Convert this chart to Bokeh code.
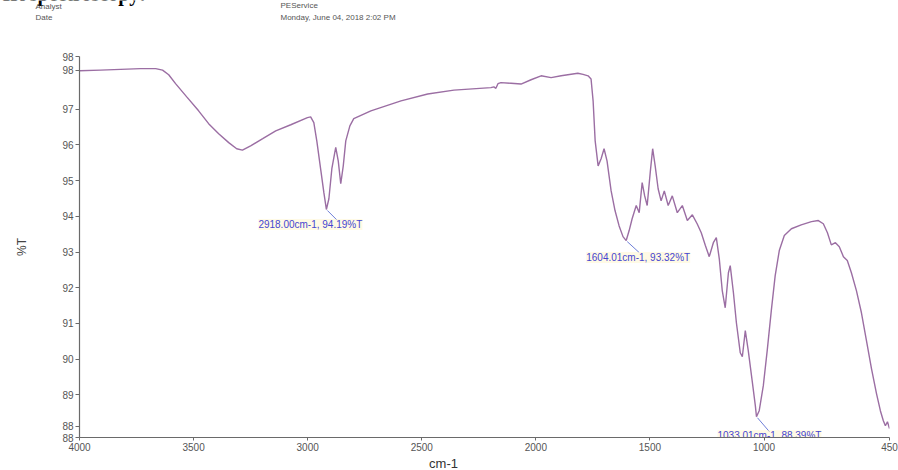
from bokeh.plotting import figure
from bokeh.layouts import column
from bokeh.models import Range1d, FixedTicker
from bokeh.core.properties import value
from bokeh.embed import file_html
from bokeh.resources import INLINE

# IR spectrum: wavenumber (cm-1) and transmittance (%T)
wavenumber = [4000, 3908, 3820, 3732, 3666, 3636, 3609, 3579, 3530, 3478,
              3434, 3390, 3346, 3311, 3286, 3250, 3197, 3140, 3074, 3001,
              2987, 2973, 2960, 2942, 2929, 2918.00, 2907, 2894, 2877, 2866,
              2855, 2844, 2833, 2815, 2798, 2723, 2591, 2474, 2359, 2197,
              2184, 2175, 2166, 2153, 2109, 2065, 2021, 1977, 1933, 1889,
              1816, 1793, 1771, 1758, 1749, 1740, 1727, 1714, 1701, 1688,
              1670, 1653, 1635, 1618, 1604.01, 1591, 1578, 1560, 1547, 1534,
              1523, 1512, 1498, 1488, 1477, 1464, 1451, 1437, 1420, 1402,
              1380, 1358, 1336, 1314, 1293, 1275, 1257, 1240, 1222, 1209,
              1196, 1183, 1170, 1156, 1148, 1134, 1121, 1104, 1095, 1082,
              1069, 1051, 1038, 1033.01, 1021, 1003, 986, 968, 951, 933,
              911, 880, 837, 792, 762, 740, 722, 705, 687, 670,
              652, 635, 617, 595, 573, 551, 529, 507, 490, 477,
              468, 459, 450]
transmittance = [98.07, 98.09, 98.11, 98.13, 98.13, 98.09, 97.96, 97.71, 97.34, 96.95,
                 96.59, 96.31, 96.06, 95.89, 95.85, 95.97, 96.17, 96.39, 96.56, 96.76,
                 96.78, 96.62, 96.11, 95.27, 94.66, 94.19, 94.49, 95.33, 95.93, 95.55,
                 94.91, 95.41, 96.11, 96.53, 96.73, 96.95, 97.23, 97.42, 97.53, 97.60,
                 97.62, 97.58, 97.71, 97.74, 97.72, 97.70, 97.82, 97.93, 97.88, 97.93,
                 98.00, 97.97, 97.93, 97.84, 97.23, 96.11, 95.41, 95.61, 95.89, 95.55,
                 94.71, 94.16, 93.73, 93.43, 93.32, 93.60, 93.93, 94.30, 94.10, 94.94,
                 94.57, 94.30, 95.27, 95.89, 95.41, 94.77, 94.43, 94.71, 94.30, 94.57,
                 94.10, 94.30, 93.88, 94.04, 93.79, 93.54, 93.18, 92.87, 93.26, 93.40,
                 92.81, 91.92, 91.44, 92.42, 92.62, 91.86, 91.02, 90.18, 90.07, 90.80,
                 90.24, 89.35, 88.70, 88.39, 88.56, 89.26, 90.24, 91.36, 92.34, 93.04,
                 93.46, 93.65, 93.76, 93.85, 93.88, 93.79, 93.54, 93.20, 93.26, 93.15,
                 92.87, 92.76, 92.42, 91.92, 91.30, 90.52, 89.74, 89.04, 88.56, 88.28,
                 88.14, 88.25, 88.06]

# Labelled peaks
peak_wn = [2918.00, 1604.01, 1033.01]
peak_t = [94.19, 93.32, 88.39]
peak_labels = [f"{w:.2f}cm-1, {t:.2f}%T" for w, t in zip(peak_wn, peak_t)]

# Axis ticks
x_ticks = [4000, 3500, 3000, 2500, 2000, 1500, 1000, 450]
y_ticks = [87.81, 88.12, 89, 90, 91, 92, 93, 94, 95, 96, 97, 98.09, 98.47]
y_tick_text = ["88", "88", "89", "90", "91", "92", "93", "94", "95", "96", "97", "98", "98"]

# Report header
header_text = ["Analyst", "Date", "PEService", "Monday, June 04, 2018 2:02 PM"]
heading_text = "IR spectroscopy:"
x_title = "cm-1"
y_title = "%T"

X_MIN, X_MAX = 4000, 450
Y_MIN, Y_MAX = 87.81, 98.47

W = 898
HEAD_H, MAIN_H, FOOT_H = 30, 426, 14
LEFT, RIGHT, TOP, BOTTOM = 79, 9, 26, 19


def blank_strip(height):
    """A plain drawing strip in pixel coordinates, y growing downwards."""
    f = figure(width=W, height=height, x_range=Range1d(0, W), y_range=Range1d(height, 0),
               x_axis_type=None, y_axis_type=None, output_backend="svg",
               toolbar_location=None, min_border=0, frame_align=False)
    f.outline_line_color = None
    f.xgrid.visible = False
    f.ygrid.visible = False
    return f


# ---- header strip (the page heading runs off the top edge of the printout)
head = blank_strip(HEAD_H)
head.text([2], [4], text=[heading_text], text_font=value("Liberation Serif"),
          text_font_style="bold", text_font_size="20px", text_color="#000000",
          text_align="left", text_baseline="bottom")
head.text([35, 35, 280, 280], [6, 17, 5, 17], text=header_text,
          text_font=value("Liberation Sans"), text_font_size="8px",
          text_color="#555555", text_align="left", text_baseline="middle")

# ---- spectrum
p = figure(width=W, height=MAIN_H, x_range=Range1d(X_MIN, X_MAX), y_range=Range1d(Y_MIN, Y_MAX),
           output_backend="svg", toolbar_location=None, frame_align=False,
           min_border_left=LEFT, min_border_right=RIGHT,
           min_border_top=TOP, min_border_bottom=BOTTOM)
p.outline_line_color = None
p.xgrid.visible = False
p.ygrid.visible = False

AXIS_GREY = "#6a6a6a"
for ax in (p.xaxis[0], p.yaxis[0]):
    ax.axis_line_color = AXIS_GREY
    ax.axis_line_width = 1.2
    ax.major_tick_line_color = AXIS_GREY
    ax.major_tick_in = 0
    ax.major_tick_out = 4
    ax.minor_tick_line_color = None
    ax.major_label_text_font = "Liberation Sans"
    ax.major_label_text_font_size = "10px"
    ax.major_label_text_color = "#555555"

p.xaxis[0].ticker = FixedTicker(ticks=x_ticks)
p.xaxis[0].major_tick_out = 3
p.xaxis[0].major_label_standoff = 2
p.yaxis[0].ticker = FixedTicker(ticks=y_ticks)
p.yaxis[0].major_label_overrides = {t: s for t, s in zip(y_ticks, y_tick_text)}
p.yaxis[0].major_label_standoff = 2
p.yaxis[0].axis_label = y_title
p.yaxis[0].axis_label_standoff = 30
p.yaxis[0].axis_label_text_font = "Liberation Sans"
p.yaxis[0].axis_label_text_font_style = "normal"
p.yaxis[0].axis_label_text_font_size = "12px"
p.yaxis[0].axis_label_text_color = "#444444"

p.line(wavenumber, transmittance, line_color="#9b6ea3", line_width=1.4)

# peak callouts: leader line and label, offsets given in screen pixels
frame_w = W - LEFT - RIGHT
frame_h = MAIN_H - TOP - BOTTOM
px_per_wn = frame_w / (X_MIN - X_MAX)
px_per_t = frame_h / (Y_MAX - Y_MIN)

leader_dx = [11, 13, 13]
leader_dy = [11, 12, 15]
label_dx = [-68, -40, -39]
label_dy = [15, 17, 19]

lead_x0 = [w - 1 / px_per_wn for w in peak_wn]
lead_y0 = [t - 1 / px_per_t for t in peak_t]
lead_x1 = [w - dx / px_per_wn for w, dx in zip(peak_wn, leader_dx)]
lead_y1 = [t - dy / px_per_t for t, dy in zip(peak_t, leader_dy)]
p.segment(lead_x0, lead_y0, lead_x1, lead_y1, line_color="#6f7fd8", line_width=1)

lab_x = [w - dx / px_per_wn for w, dx in zip(peak_wn, label_dx)]
lab_y = [t - dy / px_per_t for t, dy in zip(peak_t, label_dy)]
p.text(lab_x, lab_y, text=peak_labels, text_font=value("Liberation Sans"),
       text_font_size="10px", text_color="#4646d0", text_align="left",
       text_baseline="middle", background_fill_color="#fff6cc", background_fill_alpha=0.5)

# ---- x-axis title strip
foot = blank_strip(FOOT_H)
foot.text([443], [7], text=[x_title], text_font=value("Liberation Sans"),
          text_font_size="13px", text_color="#333333", text_align="center",
          text_baseline="middle")

layout = column(head, p, foot, spacing=0)
open("out.html", "w").write(file_html(layout, INLINE))
